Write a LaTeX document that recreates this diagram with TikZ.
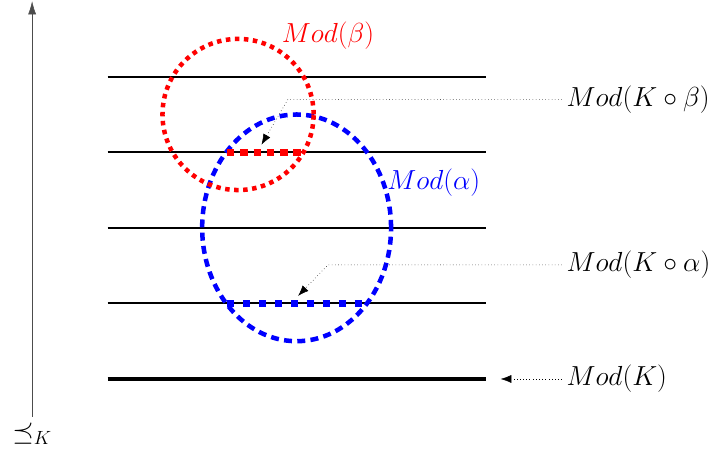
\documentclass[tikz,border=0pt]{standalone}
\usetikzlibrary{arrows.meta}

\tikzset{
  level/.style={line width=1.5pt},
  pointer/.style={dotted, -{Latex[length=8pt,width=6pt]}},
  circleb/.style={red, line width=3.4pt, dash pattern=on 3.4pt off 3.4pt},
  ellipsea/.style={blue, line width=3.4pt, dash pattern=on 6pt off 4pt},
}

\begin{document}
\begin{tikzpicture}
  \useasboundingbox (-0.85,-2.01) rectangle (18.02,10.03);

  % the order
  \coordinate (axbot) at (0,-1);
  \coordinate (axtop) at (0,10);
  \draw[-{Latex[length=10pt,width=6pt]}, black!70] (axbot) -- (axtop);
  \node (prec) [below=0.05cm] at (axbot) {\huge $\preceq_K$};

  % the levels
  \draw[line width=3.5pt] (2,0) -- (12,0);
  \foreach \i in {1,...,4}
    \draw[level] (2,2*\i) -- (12,2*\i);

  % the models
  \draw[ellipsea] (7,4) ellipse [x radius=2.5, y radius=3];
  \draw[circleb] (5.45,7) circle [radius=2];
  \draw[red, line width=5.5pt, dash pattern=on 5.5pt off 4.5pt] (5.16,6) -- (7.16,6);
  \draw[blue, line width=5.5pt, dash pattern=on 5.5pt off 6.5pt] (5.16,2) -- (8.76,2);

  \node (modb) [red]  at (7.83,9.1)  {\huge $Mod(\beta)$};
  \node (moda) [blue] at (10.63,5.19) {\huge $Mod(\alpha)$};

  \node (modKb) [anchor=west] at (14.02,7.4)  {\huge $Mod(K\circ\beta)$};
  \node (modKa) [anchor=west] at (14.02,3.02) {\huge $Mod(K\circ\alpha)$};
  \node (modK)  [anchor=west] at (14.02,0)    {\huge $Mod(K)$};

  \coordinate (bendb) at (6.77,7.4);
  \coordinate (tipb)  at (6.07,6.2);
  \coordinate (benda) at (7.83,3.02);
  \coordinate (tipa)  at (7.04,2.2);
  \coordinate (tipK)  at (12.4,0);

  \draw[pointer] (modKb.west) -- (bendb) -- (tipb);
  \draw[pointer] (modKa.west) -- (benda) -- (tipa);
  \draw[pointer] (modK.west) -- (tipK);
\end{tikzpicture}
\end{document}
